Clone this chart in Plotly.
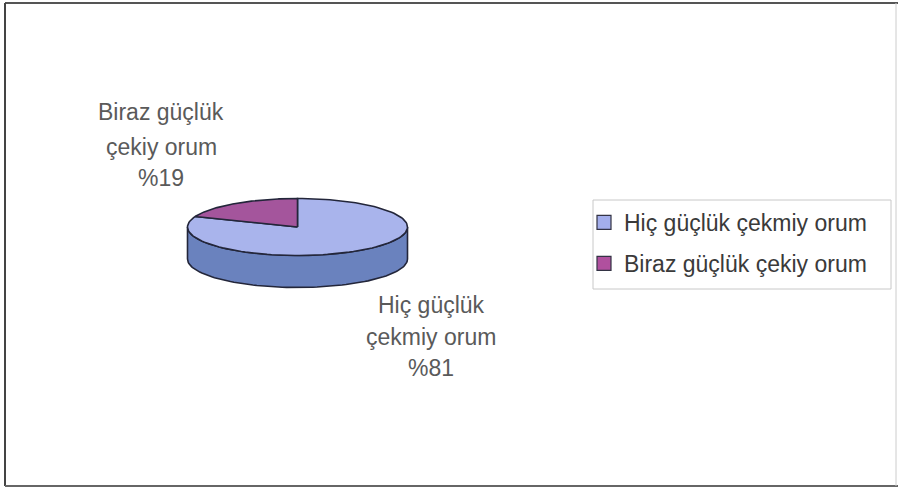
import numpy as np
import plotly.graph_objects as go

# ---- data ----
categories = ["Hiç güçlük çekmiy orum", "Biraz güçlük çekiy orum"]
values = [81, 19]
label_lines = [["Hiç güçlük", "çekmiy orum"], ["Biraz güçlük", "çekiy orum"]]

# ---- styles / geometry (pixels) ----
W, H = 899, 488
cx, cy, rx, ry, depth = 297.5, 227.0, 110.0, 28.5, 32.0
top_colors = ["#A9B4EC", "#A4559C"]
side_colors = ["#6A82BE", "#7A3A70"]
legend_colors = ["#A3AEEB", "#B0509E"]
edge = "#23263A"
label_pos = [(431, [305, 337, 368]), (161, [112, 147, 178])]
FONT = "Liberation Sans, Arial"

fig = go.Figure()

def pt(theta_deg, dy=0.0):
    t = np.radians(theta_deg)
    return cx + rx * np.sin(t), cy - ry * np.cos(t) + dy

total = float(sum(values))
angles = []
start = 0.0
for v in values:
    end = start + 360.0 * v / total
    angles.append((start, end))
    start = end

# side walls (front half only: 90..270 degrees)
for i, (a0, a1) in enumerate(angles):
    s, e = max(a0, 90.0), min(a1, 270.0)
    if e <= s:
        continue
    th = np.linspace(s, e, 80)
    xt, yt = pt(th)
    xb, yb = pt(th[::-1], depth)
    xs = np.concatenate([xt, xb, xt[:1]])
    ys = np.concatenate([yt, yb, yt[:1]])
    fig.add_trace(go.Scatter(x=xs, y=ys, fill="toself", fillcolor=side_colors[i],
                             mode="lines", line=dict(color=edge, width=1.6),
                             showlegend=False, hoverinfo="skip"))

# top slices
for i, (a0, a1) in enumerate(angles):
    th = np.linspace(a0, a1, 120)
    xa, ya = pt(th)
    xs = np.concatenate([[cx], xa, [cx]])
    ys = np.concatenate([[cy], ya, [cy]])
    fig.add_trace(go.Scatter(x=xs, y=ys, fill="toself", fillcolor=top_colors[i],
                             mode="lines", line=dict(color=edge, width=1.6),
                             showlegend=False, hoverinfo="skip"))

# legend entries
for i, c in enumerate(categories):
    fig.add_trace(go.Scatter(x=[None], y=[None], mode="markers", name=c,
                             legendgroup=str(i),
                             marker=dict(symbol="square", size=14, color=legend_colors[i],
                                         line=dict(color="#333344", width=1.2))))

# data labels
annotations = []
for i, lines in enumerate(label_lines):
    x0, ys_ = label_pos[i]
    texts = lines + ["%" + str(values[i])]
    for t, yy in zip(texts, ys_):
        annotations.append(dict(x=x0, y=yy, xref="x", yref="y", text=t, showarrow=False,
                                font=dict(family=FONT, size=23, color="#5A5A5A"),
                                xanchor="center", yanchor="middle"))

shapes = [
    dict(type="line", xref="x", yref="y", x0=5, y0=3, x1=898, y1=3, line=dict(color="#555555", width=2)),
    dict(type="line", xref="x", yref="y", x0=5, y0=3, x1=5, y1=486, line=dict(color="#444444", width=2)),
    dict(type="line", xref="x", yref="y", x0=5, y0=486, x1=898, y1=486, line=dict(color="#666666", width=2)),
    dict(type="line", xref="x", yref="y", x0=896, y0=3, x1=896, y1=486, line=dict(color="#CCCCCC", width=1)),
    # legend frame
    dict(type="rect", xref="x", yref="y", x0=593, y0=200, x1=891, y1=289,
         line=dict(color="#C8C8C8", width=1), fillcolor="rgba(0,0,0,0)", layer="below"),
]

fig.update_layout(
    width=W, height=H, margin=dict(l=0, r=0, t=0, b=0),
    paper_bgcolor="white", plot_bgcolor="white",
    xaxis=dict(range=[0, W], visible=False, fixedrange=True),
    yaxis=dict(range=[H, 0], visible=False, fixedrange=True),
    showlegend=True,
    legend=dict(x=584 / W, y=1 - 201 / H, xanchor="left", yanchor="top",
                borderwidth=0, bgcolor="rgba(0,0,0,0)",
                font=dict(family=FONT, size=23, color="#3A3A3A"),
                traceorder="grouped", tracegroupgap=8, itemwidth=30),
    annotations=annotations, shapes=shapes,
)

fig.write_html("out.html", config={"displayModeBar": False},
               post_script="document.body.style.margin='0';document.body.style.padding='0';")
